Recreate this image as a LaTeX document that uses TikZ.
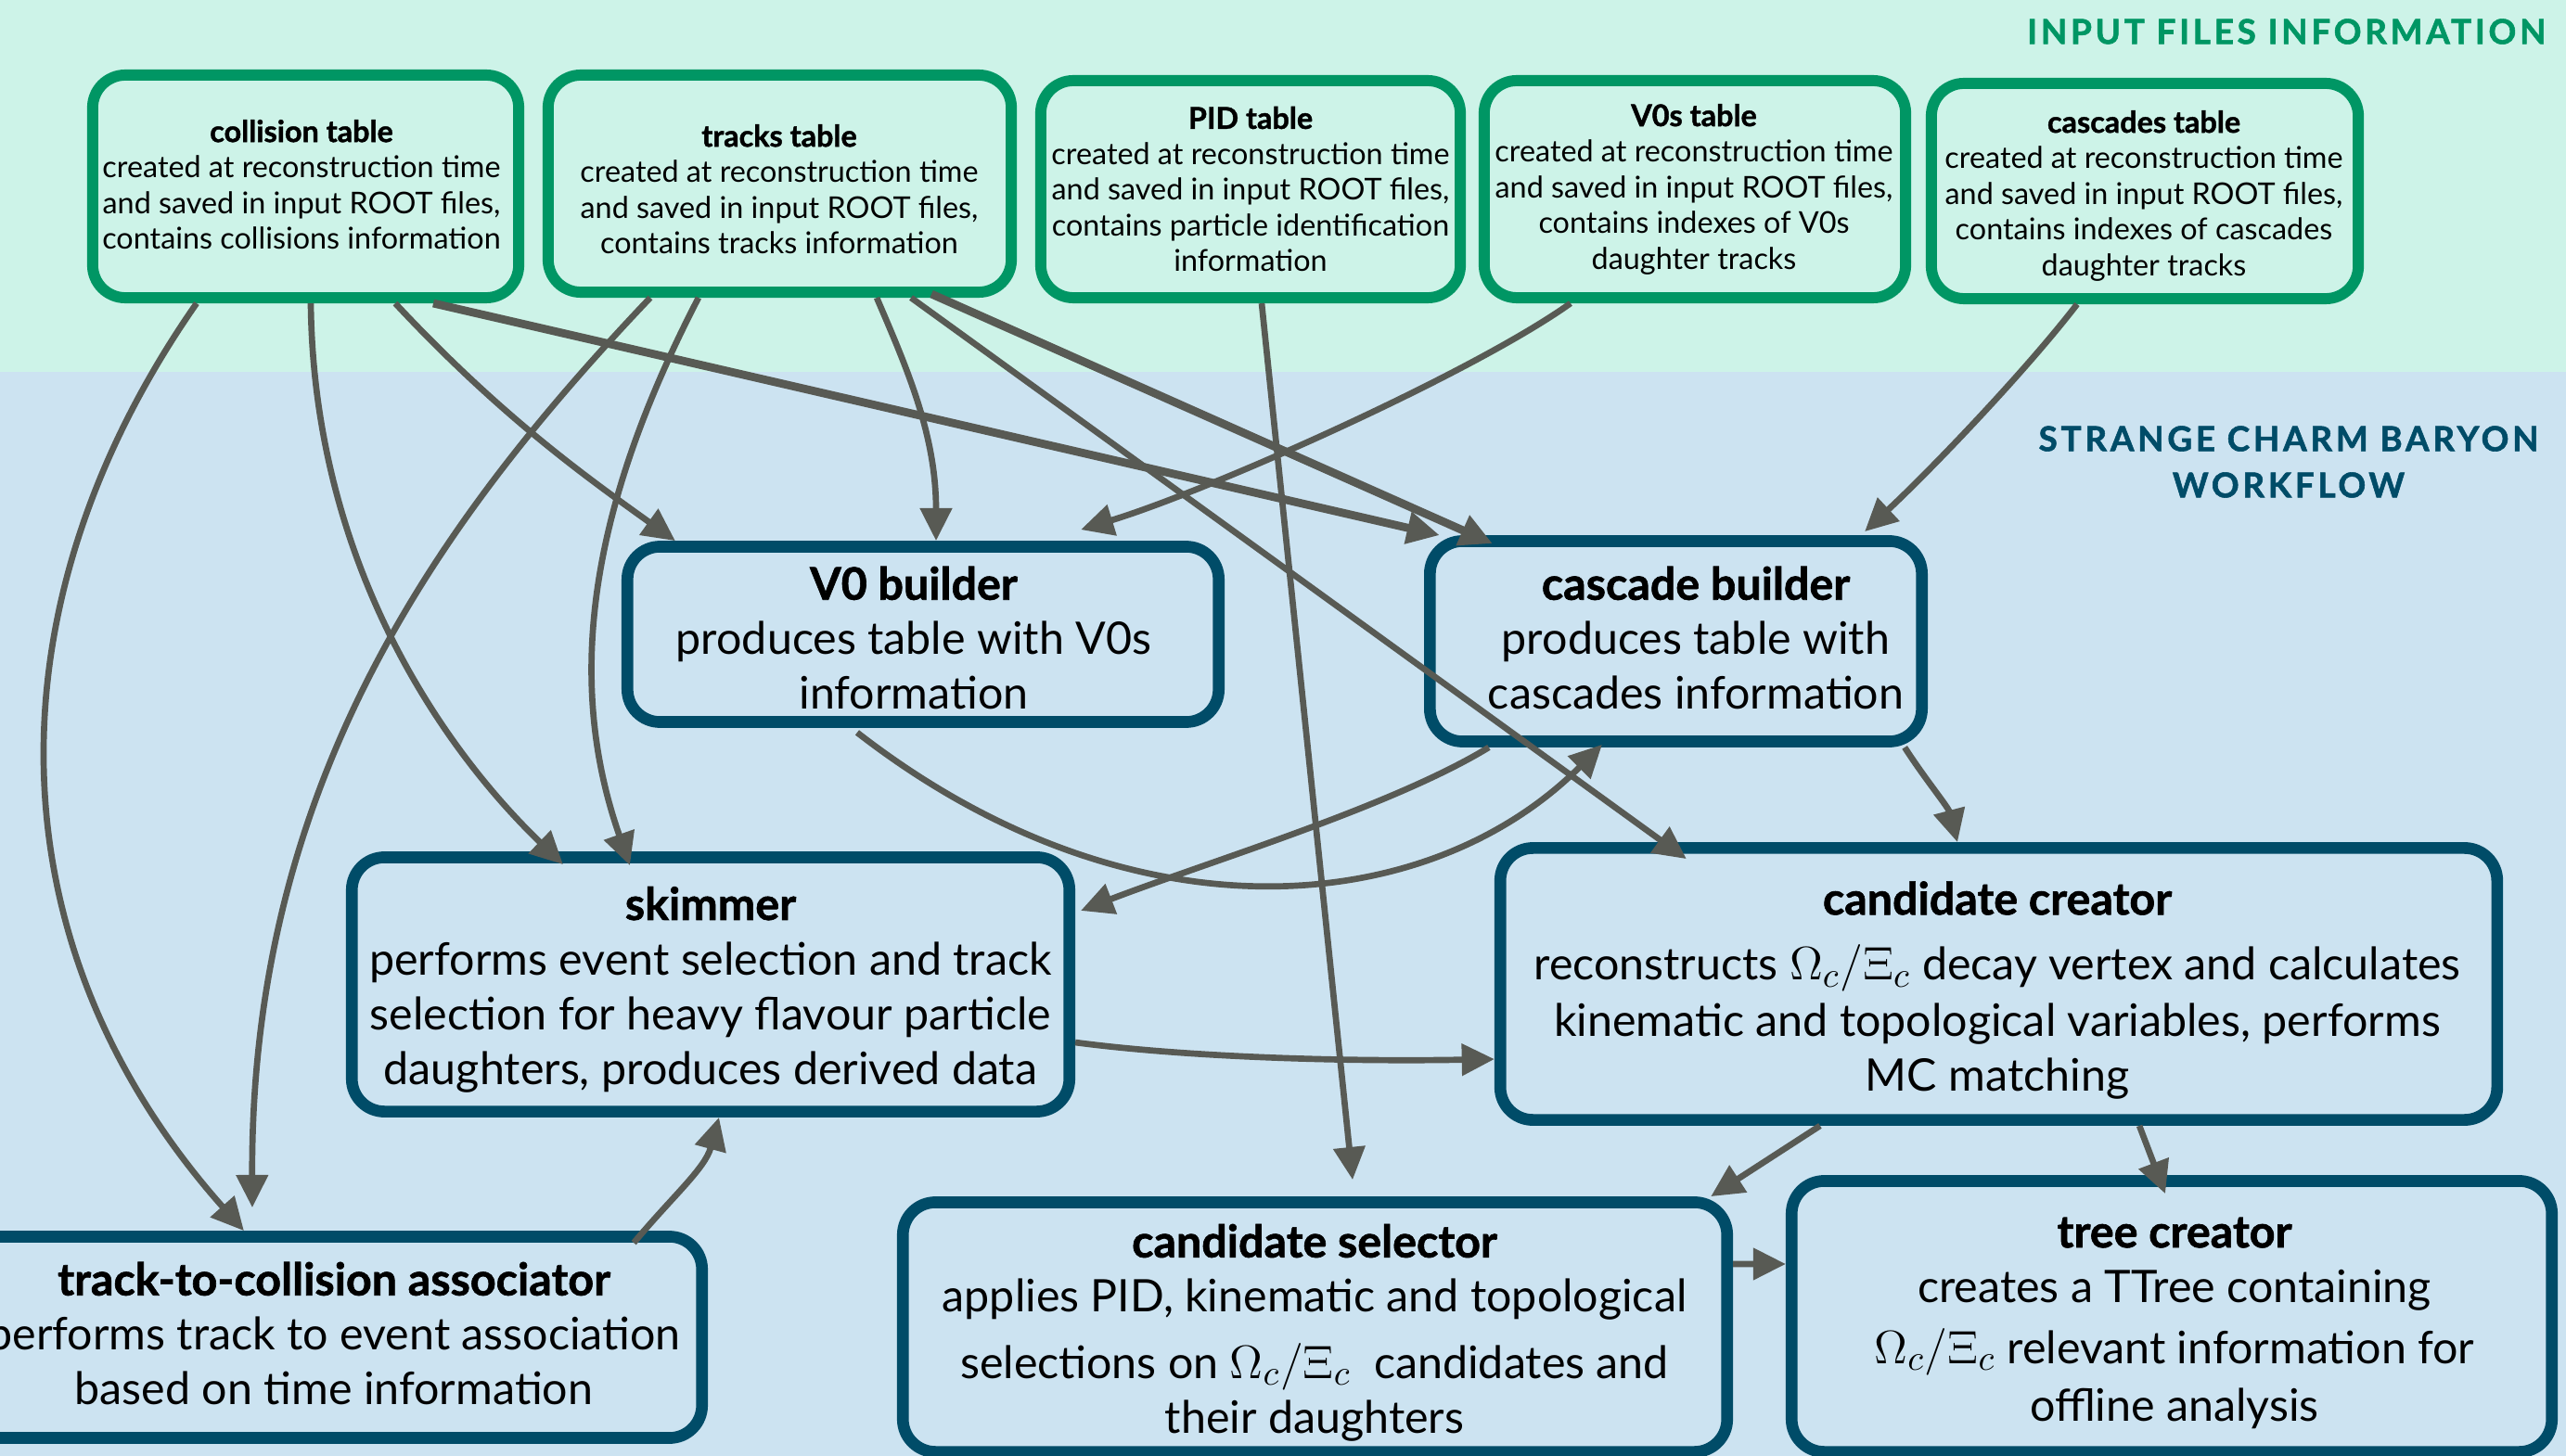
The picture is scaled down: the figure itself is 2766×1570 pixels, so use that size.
\documentclass[tikz,border=0pt]{standalone}
\usepackage{fontspec}
\setmainfont{Lato}[BoldFeatures={FakeBold=1.3}]
\newfontfamily\headfont[LetterSpace=10,BoldFeatures={FakeBold=1.5}]{Lato}
\newcommand\OmXi{{\fontsize{15.8}{16.8}\selectfont$\Omega_c/\Xi_c$}}
\usetikzlibrary{arrows.meta,shadows}
\definecolor{mintbg}{RGB}{205,243,232}
\definecolor{bluebg}{RGB}{204,227,241}
\definecolor{tgreen}{RGB}{0,150,100}
\definecolor{tteal}{RGB}{0,76,104}
\definecolor{arrgray}{RGB}{88,90,84}
\begin{document}
\begin{tikzpicture}[x=0.01cm,y=-0.01cm,
  tbl/.style={draw=tgreen, line width=3.4pt, rounded corners=10pt, fill=mintbg, inner sep=0pt},
  wf/.style={draw=tteal, line width=3.6pt, rounded corners=10pt, fill=bluebg, inner sep=0pt},
  ttext/.style={align=center, font=\fontsize{9.2}{10.95}\selectfont, inner sep=0pt},
  wtext/.style={align=center, font=\fontsize{13.75}{16.8}\selectfont, inner sep=0pt},
  conn/.style={draw=arrgray, line width=1.9pt, -{Triangle[length=10pt,width=9.5pt]}},
  thickconn/.style={conn, line width=2.5pt},
  heading/.style={font=\headfont\bfseries\fontsize{10.5}{14.2}\selectfont, align=center, inner sep=0pt}]
\useasboundingbox (0,0) rectangle (2766,1570);
\fill[bluebg] (0,0) rectangle (2766,1570);
\fill[mintbg] (0,0) rectangle (2766,401);

\node[heading, text=tgreen, anchor=east] (hin) at (2745,34) {INPUT FILES INFORMATION};
\node[heading, text=tteal] (hwf) at (2467,498) {STRANGE CHARM BARYON\\WORKFLOW};

% input tables
\node[tbl, minimum width=4.59cm, minimum height=2.40cm] (coll) at (329.5,201) {};
\node[tbl, minimum width=4.99cm, minimum height=2.34cm] (trk) at (840.5,198) {};
\node[tbl, minimum width=4.52cm, minimum height=2.34cm] (pid) at (1348,204) {};
\node[tbl, minimum width=4.54cm, minimum height=2.34cm] (v0s) at (1827,204) {};
\node[tbl, minimum width=4.60cm, minimum height=2.32cm] (cas) at (2312,206) {};

\node[ttext] (collt) at (325,199) {\textbf{collision table}\\created at reconstruction time\\and saved in input ROOT files,\\contains collisions information};
\node[ttext] (trkt) at (840,204) {\textbf{tracks table}\\created at reconstruction time\\and saved in input ROOT files,\\contains tracks information};
\node[ttext] (pidt) at (1348,204) {\textbf{PID table}\\created at reconstruction time\\and saved in input ROOT files,\\contains particle identification\\information};
\node[ttext] (v0st) at (1826,204) {\textbf{V0s table}\\created at reconstruction time\\and saved in input ROOT files,\\contains indexes of V0s\\daughter tracks};
\node[ttext] (cast) at (2311,211) {\textbf{cascades table}\\created at reconstruction time\\and saved in input ROOT files,\\contains indexes of cascades\\daughter tracks};

% workflow boxes
\node[wf, minimum width=6.37cm, minimum height=1.89cm, drop shadow={opacity=0.25, shadow xshift=0.6pt, shadow yshift=-1.5pt}] (v0b) at (995,684) {};
\node[wf, minimum width=5.30cm, minimum height=2.16cm] (cb) at (1806.5,691.5) {};
\node[wf, minimum width=7.73cm, minimum height=2.74cm] (skim) at (766,1061.5) {};
\node[wf, minimum width=10.74cm, minimum height=2.93cm] (cc) at (2154.5,1061) {};
\node[wf, minimum width=7.93cm, minimum height=2.17cm] (tca) at (360,1442) {};
\node[wf, minimum width=8.88cm, minimum height=2.69cm] (cs) at (1417.5,1431) {};
\node[wf, minimum width=8.19cm, minimum height=2.92cm] (tree) at (2341,1419.5) {};

\node[wtext] (v0bt) at (985,688) {\textbf{V0 builder}\\produces table with V0s\\information};
\node[wtext] (cbt) at (1828,688) {\textbf{cascade builder}\\produces table with\\cascades information};
\node[wtext] (skimt) at (766,1067) {\textbf{skimmer}\\performs event selection and track\\selection for heavy flavour particle\\daughters, produces derived data};
\node[wtext] (cct) at (2153,1068) {\textbf{candidate creator}\\[3.2pt]reconstructs \OmXi{} decay vertex and calculates\\[0.6pt]kinematic and topological variables, performs\\MC matching};
\node[wtext] (tcat) at (360,1438) {\textbf{track-to-collision associator}\\performs track to event association\\based on time information};
\node[wtext] (cst) at (1417,1437) {\textbf{candidate selector}\\applies PID, kinematic and topological\\[3.5pt]selections on \OmXi\ \ candidates and\\their daughters};
\node[wtext] (treet) at (2344,1427) {\textbf{tree creator}\\creates a TTree containing\\[2pt]\OmXi{} relevant information for\\[1pt]offline analysis};

% connectors
\draw[conn] ([xshift=-1.175cm]coll.south) .. controls (-15,652) and (-10,1020) .. ([xshift=-0.97cm]tca.north);
\draw[conn] ([xshift=0.055cm]coll.south) .. controls (338,600) and (470,800) .. ([xshift=-1.59cm,yshift=-0.14cm]skim.north);
\draw[conn] ([xshift=0.965cm]coll.south) .. controls (539,448) and (630,513) .. ([xshift=-2.67cm]v0b.north);
\draw[thickconn] ([xshift=1.375cm]coll.south) -- ([xshift=-2.545cm]cb.north);

\draw[conn] ([xshift=-1.395cm]trk.south) .. controls (466,568) and (270,850) .. ([xshift=-0.88cm,yshift=0.25cm]tca.north);
\draw[conn] ([xshift=-0.875cm]trk.south) .. controls (639,541) and (607,728) .. ([xshift=-0.87cm,yshift=-0.15cm]skim.north);
\draw[conn] ([xshift=1.045cm]trk.south) .. controls (979,400) and (1009,470) .. ([xshift=0.14cm]v0b.north);
\draw[thickconn] ([xshift=1.635cm,yshift=0.04cm]trk.south) -- ([xshift=-1.975cm,yshift=-0.09cm]cb.north);
\draw[conn] ([xshift=1.415cm]trk.south) -- ([xshift=-3.365cm,yshift=-0.18cm]cc.north);

\draw[conn] ([xshift=0.12cm]pid.south) -- ([xshift=0.405cm,yshift=0.18cm]cs.north);
\draw[conn] ([xshift=-1.34cm]v0s.south) .. controls (1588,402) and (1306,528) .. ([xshift=1.70cm,yshift=0.12cm]v0b.north);
\draw[conn] ([xshift=-0.73cm]cas.south) .. controls (2182,402) and (2080,508) .. ([xshift=2.035cm,yshift=0.04cm]cb.north);

\draw[conn] ([xshift=-0.71cm,yshift=-0.05cm]v0b.south) .. controls (1220,1020) and (1540,990) .. ([xshift=-0.795cm,yshift=0.03cm]cb.south);
\draw[conn] ([xshift=-2.015cm]cb.south) .. controls (1500,870) and (1300,930) .. ([xshift=0.06cm,yshift=0.795cm]skim.east);
\draw[conn] ([yshift=-0.625cm]skim.east) .. controls (1280,1140) and (1450,1145) .. ([yshift=-0.81cm]cc.west);
\draw[conn] ([xshift=3.23cm,yshift=-0.13cm]tca.north) .. controls (725,1290) and (760,1260) .. ([xshift=0.09cm]skim.south);
\draw[conn] ([xshift=2.465cm]cb.south) .. controls (2075,840) and (2100,870) .. ([xshift=-0.445cm]cc.north);
\draw[conn] ([xshift=-1.925cm]cc.south) -- ([xshift=4.265cm]cs.north);
\draw[conn] ([xshift=1.515cm]cc.south) -- ([xshift=-0.07cm,yshift=-0.2cm]tree.north);
\draw[conn] ([yshift=0.68cm]cs.east) -- ([yshift=0.565cm]tree.west);
\end{tikzpicture}
\end{document}
